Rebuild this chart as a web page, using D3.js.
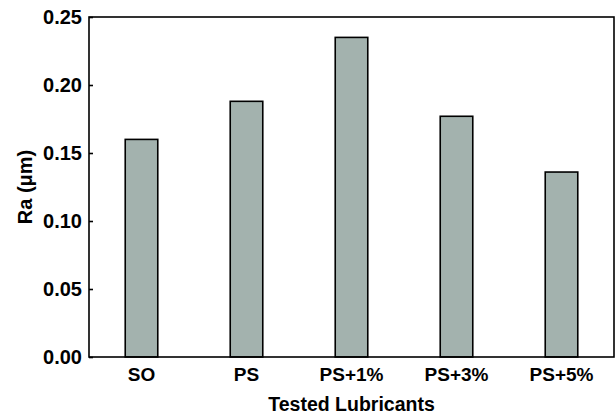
<!DOCTYPE html>
<html>
<head>
<meta charset="utf-8">
<script src="https://cdn.jsdelivr.net/npm/d3@7"></script>
<style>
  body { margin: 0; background: #fff; }
  text { font-family: "Liberation Sans", Arial, sans-serif; font-weight: bold; fill: #000; }
</style>
</head>
<body>
<div id="chart"></div>
<script>
const categories = ['SO', 'PS', 'PS+1%', 'PS+3%', 'PS+5%'];
const raValues = [0.160, 0.188, 0.235, 0.177, 0.136];
const yTicks = [0.00, 0.05, 0.10, 0.15, 0.20, 0.25];

const width = 616;
const height = 416;
const margin = { top: 17, right: 2, bottom: 59, left: 89 };

const barFill = '#a3b2ae';

const svg = d3.select('#chart')
  .append('svg')
  .attr('width', width)
  .attr('height', height);

const x = d3.scaleBand()
  .domain(categories)
  .range([margin.left, width - margin.right])
  .paddingInner(0.69)
  .paddingOuter(0.345);

const y = d3.scaleLinear()
  .domain([0, 0.25])
  .range([height - margin.bottom, margin.top]);

// bars
svg.append('g')
  .selectAll('rect')
  .data(raValues)
  .join('rect')
  .attr('x', (d, i) => x(categories[i]))
  .attr('y', d => y(d))
  .attr('width', x.bandwidth())
  .attr('height', d => y(0) - y(d))
  .attr('fill', barFill)
  .attr('stroke', '#000')
  .attr('stroke-width', 1.6);

// frame
svg.append('rect')
  .attr('x', margin.left)
  .attr('y', margin.top)
  .attr('width', width - margin.left - margin.right)
  .attr('height', height - margin.top - margin.bottom)
  .attr('fill', 'none')
  .attr('stroke', '#000')
  .attr('stroke-width', 1.6);

// y axis
const yAxis = svg.append('g')
  .attr('transform', `translate(${margin.left},0)`)
  .call(d3.axisLeft(y).tickValues(yTicks).tickFormat(d3.format('.2f')).tickSizeInner(-4).tickSizeOuter(0).tickPadding(7));
yAxis.select('.domain').remove();
yAxis.selectAll('line').attr('stroke', '#000').attr('stroke-width', 1.6);
yAxis.selectAll('text').style('font-size', '20px');

// x axis
const xAxis = svg.append('g')
  .attr('transform', `translate(0,${height - margin.bottom})`)
  .call(d3.axisBottom(x).tickSize(0).tickPadding(11));
xAxis.select('.domain').remove();
xAxis.selectAll('text').style('font-size', '19px');

// axis titles
svg.append('text')
  .attr('x', margin.left + (width - margin.left - margin.right) / 2)
  .attr('y', 411)
  .attr('text-anchor', 'middle')
  .style('font-size', '19.5px')
  .text('Tested Lubricants');

svg.append('text')
  .attr('transform', `translate(32,${(margin.top + height - margin.bottom) / 2}) rotate(-90)`)
  .attr('text-anchor', 'middle')
  .style('font-size', '20px')
  .text('Ra (μm)');
</script>
</body>
</html>
